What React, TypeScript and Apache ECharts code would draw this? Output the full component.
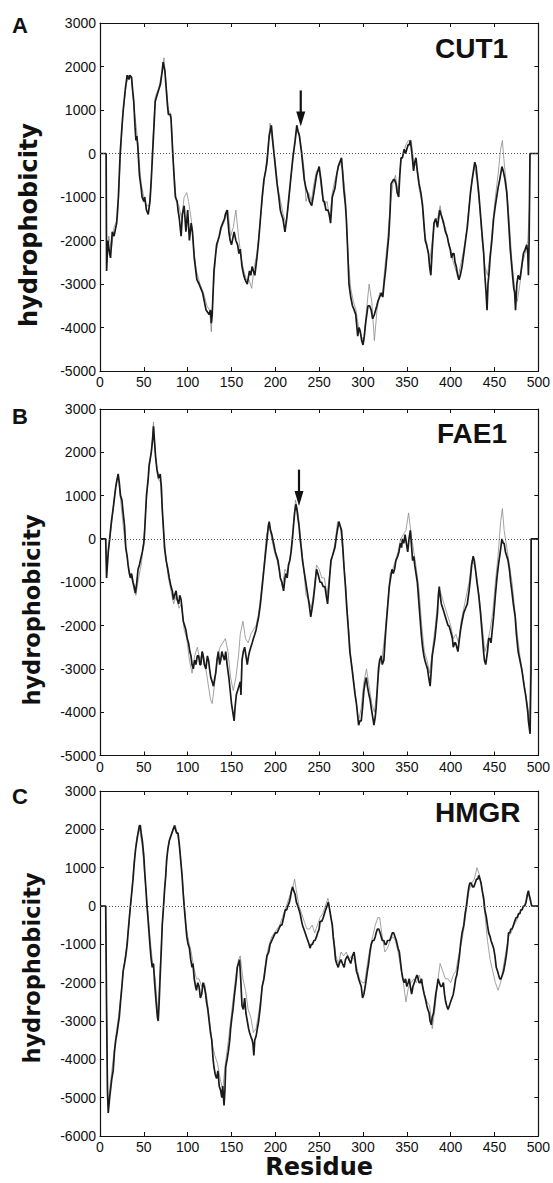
import React, { useEffect, useRef } from "react";
import * as echarts from "echarts";

// ---------- data (residue, hydrophobicity) ----------
const panelLetters = ["A", "B", "C"];
const panelNames = ["CUT1", "FAE1", "HMGR"];
const xTicks = { min: 0, max: 500, interval: 50 };
const yMins = [-5000, -5000, -6000];
const yMax = 3000;

const cut1Dark: [number, number][] = [
  [0,0],[7,0],[7.5,-2700],[9,-2000],[11,-2300],[12,-2400],[14,-1800],[16,-1900],[19,-1600],[21,-1000],[23,0],[25,600],[26.5,1000],[29,1500],[31,1800],[33,1700],[34,1800],[36,1750],[37,1500],[38.5,1200],[40,600],[41,300],[42,400],[43,200],[45,-500],[47,-800],[48,-1000],[50,-1100],[51,-1000],[53,-1300],[55,-1400],[57,-1100],[58.5,-600],[60,0],[61.5,600],[63,1200],[66,1400],[69,1600],[71,1900],[72,2100],[74,1900],[75.5,1500],[77,1100],[78,900],[80,900],[81,800],[83,0],[85,-700],[86,-1000],[88,-1100],[89,-1300],[90.5,-1500],[92.5,-1900],[94,-1400],[96,-1200],[98,-1800],[100,-1300],[102,-2000],[104,-1600],[105.5,-1800],[107.5,-2400],[110.5,-2900],[113,-3000],[115,-3100],[117,-3200],[119,-3400],[121,-3600],[124.5,-3700],[126,-3600],[127,-3900],[128,-3700],[130,-2700],[133,-2100],[136,-1900],[138,-1700],[140,-1600],[142,-1500],[143,-1400],[145,-1300],[147,-1800],[148.5,-2000],[150,-2100],[152,-1900],[153,-1800],[155,-2000],[157,-2100],[158.5,-2300],[160,-2200],[162,-2600],[164,-2800],[165.5,-2900],[168,-3000],[170.5,-2700],[172,-2800],[173.5,-2600],[175,-2700],[176.6,-2800],[179,-2400],[181,-2000],[183,-1500],[185,-1000],[187,-600],[189,-400],[190.5,-200],[193,400],[195.5,650],[197,300],[200,-300],[202,-700],[204,-1000],[205.7,-1300],[207,-1400],[208.7,-1500],[211,-1800],[213,-1500],[215,-1100],[217,-700],[220,-100],[222.6,300],[224.5,650],[226,500],[227.5,400],[230,0],[231.5,-300],[233,-600],[235,-800],[236.6,-900],[239,-1100],[241.5,-1200],[244,-900],[247,-500],[250,-300],[252,-600],[254.7,-1100],[256,-1100],[257.7,-1300],[260,-1300],[261.5,-1400],[263,-1600],[265,-1000],[268,-800],[270,-500],[271.7,-300],[273.5,-200],[275.5,-100],[277,-500],[278,-800],[280,-1200],[281,-1500],[282.5,-2200],[284,-3000],[286,-3300],[288,-3500],[290,-3600],[291.7,-3700],[294,-4200],[295.5,-4000],[297,-4100],[298.5,-4300],[300,-4400],[301.5,-4200],[303,-3900],[305.7,-3500],[307.5,-3500],[309.4,-3600],[311,-3800],[313,-3700],[315.8,-3500],[317,-3400],[319,-3300],[321,-3200],[322.6,-3300],[324,-3000],[325.7,-2700],[328,-2200],[329.4,-1900],[331,-1300],[332,-700],[334.7,-600],[336,-600],[337.7,-700],[339,-900],[340.7,-1000],[342,-500],[343.4,-100],[345,-100],[347,100],[348.5,0],[350,100],[351.5,200],[352.8,200],[354,300],[355.8,0],[357.7,-400],[359,-200],[360.4,-100],[362,-400],[364,-700],[366,-900],[368,-1200],[369.5,-1600],[371,-2000],[372.5,-2100],[374.7,-2300],[376,-2600],[377.4,-2800],[379,-2200],[381,-1600],[383,-1500],[385,-1700],[387.5,-1300],[389,-1400],[390.6,-1500],[392,-1600],[394,-1800],[396,-1900],[398,-2100],[399.5,-2200],[401,-2400],[402.5,-2300],[403.8,-2300],[405,-2500],[406.4,-2600],[408,-2800],[409.4,-2900],[411,-2800],[413,-2600],[415,-2300],[417,-2000],[419,-1700],[420.8,-1300],[422.6,-900],[424.5,-600],[426,-400],[427.5,-200],[429,-300],[430,-500],[432,-900],[434,-1400],[436,-1900],[437.7,-2300],[439,-2800],[440.4,-3200],[441.5,-3600],[442.6,-3000],[444,-2700],[445,-2400],[447,-2000],[449,-1500],[451,-1200],[454,-800],[456,-600],[458.5,-300],[460,-400],[462,-600],[464,-900],[465,-1200],[466.5,-1700],[468,-2200],[470.6,-2800],[472,-3100],[473,-3200],[474,-3600],[475.5,-3000],[477,-2800],[479,-2900],[481,-2600],[483,-2300],[485,-2200],[486.8,-2100],[488,-2300],[488.7,-2800],[489.5,-2000],[490,-1000],[490.5,0],[500,0]
];
const cut1Gray: [number, number][] = [
  [0,0],[7,0],[7.5,-2500],[10,-1900],[13,-2200],[16,-1700],[20,-1500],[23,-200],[26,900],[30,1600],[33,1800],[36,1700],[39,1000],[42,500],[44,0],[47,-700],[50,-1000],[53,-1200],[56,-1200],[58,-800],[60,200],[63,1300],[67,1500],[70,1800],[73,2200],[75,1700],[78,1000],[81,900],[84,-300],[87,-1100],[90,-1200],[93,-1500],[96,-1000],[99,-900],[101,-1100],[104,-1500],[107,-2200],[110,-2700],[114,-3000],[118,-3200],[122,-3500],[125,-3600],[127,-4100],[129,-3200],[132,-2300],[135,-2000],[139,-1700],[143,-1500],[146,-1300],[149,-1900],[152,-1700],[155,-1300],[158,-1900],[161,-2400],[164,-2700],[167,-2900],[170,-2900],[173,-3100],[176,-2600],[179,-2300],[182,-1700],[185,-1100],[188,-500],[191,0],[194,700],[197,200],[200,-200],[203,-800],[206,-1100],[209,-1400],[212,-1600],[215,-1200],[218,-500],[221,0],[224,500],[227,500],[230,100],[233,-400],[235,-1100],[238,-900],[241,-1100],[244,-700],[247,-400],[250,-400],[253,-900],[256,-1200],[259,-1100],[262,-1500],[265,-900],[268,-600],[271,-400],[274,-200],[277,-400],[280,-1000],[283,-2400],[286,-3100],[289,-3400],[292,-3600],[295,-4000],[298,-4200],[301,-4300],[304,-3600],[307,-3000],[310,-3400],[313,-4300],[316,-3600],[319,-3200],[322,-3300],[325,-2600],[328,-2000],[331,-1200],[334,-700],[337,-500],[340,-900],[343,-200],[346,0],[349,200],[352,300],[355,300],[358,-200],[361,-300],[364,-800],[367,-1100],[370,-1800],[373,-2100],[376,-2500],[379,-2000],[382,-1500],[385,-1500],[388,-1200],[391,-1600],[394,-1700],[397,-2000],[400,-2200],[403,-2500],[406,-2700],[409,-2800],[412,-2500],[415,-2200],[418,-1800],[421,-1200],[424,-700],[427,-300],[430,-600],[433,-1200],[436,-2000],[439,-2600],[442,-2800],[445,-2300],[448,-1600],[451,-1000],[454,-500],[457,100],[459,300],[461,-200],[464,-800],[467,-1600],[470,-2500],[473,-3100],[476,-3400],[479,-3000],[482,-2500],[485,-2300],[488,-2000],[490,-1200],[490.5,0],[500,0]
];

const fae1Dark: [number, number][] = [
  [0,0],[6.5,0],[7.5,-900],[9.4,-300],[11,0],[13,400],[15,700],[18,1200],[20.7,1500],[22,1300],[23.4,1000],[25,900],[26.4,600],[28,300],[29.4,-200],[31,-400],[32,-600],[33.5,-800],[34.7,-900],[36,-800],[37.7,-1000],[39,-1100],[40.4,-1250],[42,-1000],[43.4,-700],[45,-600],[46,-500],[48.3,-300],[50,-100],[51,200],[53,1000],[55,1400],[56,1700],[58.5,2000],[60,2300],[61,2600],[62,2300],[63.4,1900],[65,1600],[66,1500],[67,1400],[68.7,1500],[70,1200],[71,700],[72.5,200],[73.6,-200],[75.5,-500],[77.4,-700],[79,-900],[81,-1100],[82.5,-1200],[83.8,-1400],[85,-1300],[86.8,-1200],[88,-1400],[89.8,-1500],[91,-1300],[92.5,-1400],[94,-1700],[95,-1900],[96.5,-2000],[98,-2100],[99.5,-2300],[101,-2400],[102.5,-2600],[103.8,-2700],[105,-2900],[106.4,-3000],[108,-2800],[109.4,-2900],[111,-2700],[112.5,-2700],[114,-2900],[115,-2900],[116.5,-2600],[117.7,-2700],[119,-2900],[120.8,-3000],[122.5,-2700],[123.8,-2800],[125,-3000],[126.4,-3200],[128,-3300],[129.4,-3400],[131,-3200],[132,-3100],[133.5,-2800],[135,-2600],[136.5,-2900],[137.7,-2800],[139,-2600],[140.4,-2700],[142,-2800],[143.4,-2600],[145,-2900],[147,-3200],[148.5,-3500],[150,-3800],[151.5,-4000],[153,-4200],[154,-3900],[155.5,-3600],[157,-3500],[158.5,-3400],[160,-3300],[160.8,-3600],[162,-2800],[163.5,-2600],[165,-2500],[166.5,-2700],[168,-2900],[169.5,-2700],[170.6,-2600],[172,-2500],[173.6,-2400],[175,-2300],[176.6,-2200],[178,-2100],[179,-2000],[181,-1800],[183,-1500],[185,-1100],[187,-700],[189,-300],[190.6,0],[192,300],[193,400],[194.5,200],[196,100],[198,-100],[200,-300],[201.5,-400],[203,-500],[204.5,-700],[205.7,-900],[207.5,-1000],[209.4,-1200],[211,-900],[212,-800],[213.5,-900],[215,-600],[216.5,-500],[218,-300],[219.5,0],[220.7,300],[222,600],[223.4,800],[224.5,700],[225.7,500],[227,300],[228.3,0],[229.5,-200],[231,-500],[232.5,-700],[234,-900],[235.5,-1100],[237,-1300],[238.5,-1500],[240.4,-1800],[242,-1600],[243.4,-1400],[245,-1100],[247,-700],[248.5,-800],[249.8,-900],[251,-1000],[252.8,-1000],[254.5,-1100],[256.6,-1100],[258,-1300],[259.6,-1500],[261.5,-1000],[263.4,-500],[265,-400],[266.5,-300],[268,-200],[270,100],[272.5,400],[274,300],[275.5,200],[277,-200],[278.5,-700],[280,-1100],[281.5,-1600],[283,-2000],[285,-2600],[287.5,-3000],[289.8,-3400],[291,-3600],[292.5,-3800],[294,-4100],[295,-4300],[296.5,-4200],[298,-4200],[299.5,-3900],[301,-3500],[302.5,-3300],[303.8,-3200],[305,-3400],[306.8,-3600],[308,-3700],[309.4,-3900],[311,-4100],[312.5,-4300],[314,-4100],[315,-3900],[316.5,-3400],[317.7,-3000],[319,-2800],[320.8,-2700],[322,-2900],[323.8,-2800],[325,-2400],[326.4,-2000],[328,-1600],[330,-1100],[331.5,-900],[333,-700],[334.5,-800],[336,-700],[337.5,-500],[339.6,-400],[341,-300],[342.6,-100],[344,-200],[345,0],[346.5,-100],[348,100],[349.5,-100],[351,-300],[352.5,0],[354,200],[355.5,-200],[356.6,-500],[358,-400],[359,-600],[360.5,-800],[362,-1000],[363.5,-1400],[365,-1800],[366.5,-2200],[368,-2500],[369.5,-2700],[370.6,-2800],[372,-2900],[373.6,-3000],[375,-3200],[376.6,-3400],[378,-3000],[379,-2700],[380.5,-2500],[382,-2300],[383.5,-2000],[385,-1700],[386,-1300],[387,-1100],[388,-1300],[389.4,-1500],[391,-1600],[392.5,-1700],[394,-1800],[395.5,-1900],[397,-2000],[398,-2000],[399.5,-2100],[400.8,-2200],[402,-2300],[403,-2500],[404.5,-2400],[405.7,-2400],[407,-2500],[408.3,-2600],[410,-2300],[411.3,-2100],[413,-1900],[415,-1700],[417,-1600],[419,-1500],[421,-1200],[422.6,-900],[424,-600],[425.7,-400],[427,-500],[428.3,-700],[430,-1000],[432,-1300],[434,-1700],[436,-2200],[437.5,-2600],[438.5,-2800],[440,-2900],[440.8,-2900],[442,-2600],[443.4,-2300],[445,-2300],[446,-2400],[447.5,-2100],[449,-1800],[451,-1300],[452.8,-900],[454.5,-600],[456.6,-300],[458.5,0],[460,-100],[461,-100],[462.5,-300],[464,-400],[465.5,-500],[467,-700],[468.5,-1000],[469.8,-1200],[471.5,-1500],[473.6,-1800],[475,-2200],[477,-2600],[479,-2800],[481,-3000],[482.5,-3200],[483.8,-3400],[485.5,-3600],[486.8,-3800],[488,-4000],[488.7,-4200],[490.6,-4500],[491.7,-3000],[491.8,0],[500,0]
];
const fae1Gray: [number, number][] = [
  [0,0],[6.5,0],[7.5,-700],[10,-200],[13,300],[16,900],[19,1400],[21,1400],[24,800],[27,200],[30,-300],[33,-700],[36,-900],[39,-1200],[41,-1300],[44,-900],[47,-600],[50,0],[53,900],[56,1600],[59,2100],[61,2700],[63,2000],[66,1400],[69,1300],[72,300],[75,-400],[78,-900],[81,-1200],[84,-1500],[87,-1300],[90,-1600],[93,-1500],[96,-2100],[99,-2300],[102,-2800],[105,-3100],[108,-2700],[111,-2500],[114,-2800],[117,-2600],[120,-2900],[123,-3300],[126,-3700],[128,-3800],[131,-3300],[134,-2700],[137,-2500],[140,-2400],[143,-2300],[146,-2600],[149,-3200],[152,-3500],[155,-3200],[158,-2700],[160,-2200],[163,-1900],[166,-2300],[169,-2400],[172,-2200],[175,-2100],[178,-2000],[181,-1700],[184,-1200],[187,-600],[190,100],[193,300],[196,0],[199,-300],[202,-500],[205,-800],[208,-1100],[211,-700],[214,-800],[217,-400],[220,200],[223,900],[226,600],[229,0],[232,-600],[235,-1300],[238,-1400],[241,-1600],[244,-1200],[247,-600],[250,-700],[253,-900],[256,-900],[259,-1300],[262,-800],[265,-400],[268,-100],[271,400],[274,300],[277,-300],[280,-1000],[283,-1900],[286,-2700],[289,-3200],[292,-3700],[295,-4200],[298,-3900],[301,-3300],[304,-3000],[307,-3400],[310,-3800],[313,-4000],[316,-3500],[319,-2900],[322,-2700],[325,-2200],[328,-1500],[331,-800],[334,-700],[337,-500],[340,-300],[343,0],[346,100],[349,200],[352,600],[355,100],[358,-300],[361,-700],[364,-1200],[367,-2000],[370,-2600],[373,-2800],[376,-3100],[379,-2600],[382,-2100],[385,-1500],[388,-1200],[391,-1400],[394,-1600],[397,-1800],[400,-2000],[403,-2300],[406,-2200],[409,-2400],[412,-1900],[415,-1600],[418,-1300],[421,-1000],[424,-500],[427,-600],[430,-900],[433,-1400],[436,-2000],[439,-2600],[442,-2400],[445,-2100],[448,-1700],[451,-1000],[454,-400],[457,400],[459,700],[461,200],[464,-200],[467,-600],[470,-1000],[473,-1600],[476,-2200],[479,-2700],[482,-3100],[485,-3500],[488,-3900],[490,-4300],[491,-2800],[491.8,0],[500,0]
];

const hmgrDark: [number, number][] = [
  [0,0],[6.5,0],[7.5,-2700],[8.5,-4800],[9.4,-5400],[11,-5000],[12,-4800],[13.5,-4500],[15,-4300],[16.5,-3800],[18,-3500],[19.5,-3300],[20.7,-3100],[22,-2900],[23.4,-2500],[25,-2100],[26.4,-1700],[28,-1500],[29.4,-1300],[31,-1000],[32,-700],[33.5,-300],[34.7,0],[36,300],[37.7,700],[39,1100],[40.7,1500],[42,1700],[43.4,1900],[45,2100],[46,2100],[47,1900],[48.3,1700],[50,1300],[51,900],[52.5,400],[53.6,0],[55,-400],[56.6,-900],[58,-1300],[59.6,-1600],[61,-1500],[62.3,-2000],[64,-2500],[65.5,-2900],[66.4,-3000],[67.5,-2500],[68.7,-1800],[70,-1100],[71,-500],[72.5,0],[73.6,400],[75,800],[76,1200],[77.5,1500],[79,1700],[80.5,1800],[82,1900],[83.5,2000],[85,2100],[86,2000],[87.5,1900],[89,1900],[90.5,1600],[92,1200],[93.6,800],[95,300],[96,0],[97.5,-400],[99,-800],[100.5,-1000],[102,-1100],[103.5,-1400],[105,-1600],[106,-1500],[107.5,-1900],[109,-2100],[110,-2200],[111.5,-2000],[113,-2100],[114.5,-2400],[116,-2300],[117.5,-2000],[119,-2100],[120.5,-2300],[121.5,-2500],[123,-2700],[124.5,-3000],[126,-3300],[127.5,-3500],[129,-4000],[130,-4200],[131.5,-4400],[133,-4500],[134.5,-4300],[136,-4700],[137.5,-4800],[139,-5000],[140,-4700],[141.5,-5200],[142.5,-4800],[143.4,-4200],[145,-4000],[146.4,-3800],[148,-3500],[149,-3200],[150.5,-2900],[151.7,-2700],[153,-2400],[154,-2200],[155.5,-1900],[156.6,-1600],[158,-1500],[159.2,-1400],[160.5,-1900],[162,-2600],[163.5,-2700],[165,-2400],[166.5,-2800],[168,-3000],[169.5,-3200],[170.6,-3300],[172,-3400],[173.6,-3500],[174.5,-3600],[175.5,-3900],[176.5,-3500],[178,-3400],[179.5,-3200],[181,-3000],[183,-2600],[185,-2100],[187,-1900],[188.7,-1600],[190.5,-1300],[192.5,-1200],[194,-1000],[196,-900],[198,-800],[200,-700],[202,-700],[204,-600],[206,-500],[207.5,-500],[209.5,-300],[211.3,-100],[213,-100],[214.3,0],[216,100],[217,200],[218.5,400],[219.6,500],[221,400],[222.6,300],[224,100],[225.7,0],[227,-100],[228.3,-200],[230,-400],[231,-500],[232.5,-600],[234,-700],[235.5,-800],[237,-900],[238.5,-1000],[239.6,-1100],[241,-1000],[242.3,-1000],[244,-900],[245.3,-900],[247,-800],[248.3,-700],[250,-600],[251,-400],[253,-400],[254.7,-300],[256,-200],[257.4,-100],[259,0],[260.4,100],[262,-100],[263.4,-300],[265,-500],[266,-800],[267.5,-1100],[268.7,-1400],[270,-1500],[271.7,-1600],[273,-1500],[274.7,-1400],[276.5,-1500],[278.5,-1600],[280,-1400],[282.3,-1300],[284,-1400],[286,-1500],[288,-1300],[289.8,-1200],[291,-1400],[292.5,-1700],[294,-1800],[295,-1900],[296.5,-2000],[298,-2100],[299.5,-2400],[301,-2300],[302.5,-2100],[303.8,-1900],[305,-1700],[306.4,-1500],[308,-1200],[309.4,-1000],[311,-900],[312.5,-900],[314,-800],[315,-700],[316.5,-600],[318,-600],[319.5,-700],[320.8,-800],[322,-900],[323.8,-900],[325,-1000],[326.4,-1000],[328,-900],[329,-900],[330.5,-900],[332,-800],[333.5,-700],[335,-700],[336.5,-800],[338,-900],[340,-1100],[341.5,-1200],[343,-1500],[344,-1700],[345.5,-1900],[347,-2000],[348.5,-1900],[350,-2100],[351.5,-2000],[352.8,-1900],[354,-2100],[355.5,-2300],[357,-2100],[358.5,-2000],[360,-1900],[361.5,-1800],[363,-1900],[364,-2000],[365.5,-2000],[366.8,-1900],[368,-2100],[369.8,-2300],[371,-2400],[372.8,-2600],[374,-2700],[375.5,-2800],[376.5,-3000],[378,-3100],[379,-2900],[380.4,-2800],[381.5,-2600],[383,-2300],[384.5,-2100],[385.7,-1900],[387,-2000],[388.7,-2100],[390,-2100],[391.7,-2000],[393,-2300],[394.3,-2500],[395.5,-2600],[397,-2700],[398.5,-2600],[400,-2500],[401.5,-2400],[403,-2300],[404.5,-2100],[405.7,-1900],[407,-1800],[408.3,-1600],[410,-1300],[411.3,-1000],[413,-700],[415,-500],[416.5,-200],[418,0],[419.5,300],[420.8,500],[422,600],[423.4,600],[425,500],[426.4,500],[428,600],[429.4,700],[431,700],[432,800],[433.5,700],[434.7,600],[436,400],[437.7,200],[439,-100],[440.8,-300],[442,-500],[443.4,-700],[445,-800],[446,-900],[447.5,-1000],[449,-1100],[450.5,-1300],[452,-1600],[453.5,-1700],[454.7,-1800],[456,-1900],[457.4,-1900],[459,-1800],[460.4,-1700],[462,-1500],[463.4,-1300],[465,-1000],[466,-700],[467.5,-700],[468.7,-600],[470,-600],[471.7,-500],[473,-400],[474.7,-300],[476,-300],[477.4,-200],[479,-200],[480,-100],[481.5,-100],[483,0],[484.5,0],[486,100],[487.5,300],[488.7,400],[489.5,300],[490.6,200],[491.5,100],[492.5,0],[500,0]
];
const hmgrGray: [number, number][] = [
  [0,0],[6.5,0],[7.5,-2500],[9,-5200],[12,-4600],[15,-4000],[18,-3400],[21,-2900],[24,-2300],[27,-1600],[30,-1100],[33,-500],[36,300],[39,1200],[42,1800],[45,2000],[48,1600],[51,800],[54,0],[57,-800],[60,-1500],[63,-1900],[66,-2800],[68,-1900],[71,-500],[74,500],[77,1400],[80,1800],[83,2000],[86,2100],[89,1800],[92,1300],[95,400],[98,-500],[101,-900],[104,-1200],[107,-1600],[110,-1900],[113,-1900],[116,-2100],[119,-2000],[122,-2400],[125,-3000],[128,-3600],[131,-3900],[134,-4100],[137,-4500],[140,-4800],[143,-4100],[146,-3600],[149,-3000],[152,-2400],[155,-1800],[158,-1400],[160,-1300],[163,-1900],[166,-2200],[169,-2700],[172,-2900],[175,-3300],[178,-3200],[181,-2800],[184,-2300],[187,-1800],[190,-1300],[193,-1000],[196,-800],[199,-700],[202,-600],[205,-500],[208,-300],[211,-100],[214,100],[217,300],[220,500],[222,700],[224,400],[227,0],[230,-200],[233,-400],[236,-600],[239,-600],[242,-500],[245,-700],[248,-500],[251,-300],[254,-200],[257,0],[260,200],[263,-200],[266,-700],[269,-1300],[272,-1500],[275,-1200],[278,-1300],[281,-1200],[284,-1400],[287,-1300],[290,-1400],[293,-1600],[296,-1900],[299,-2000],[302,-2000],[305,-1500],[308,-1100],[311,-800],[314,-500],[317,-300],[319,-300],[322,-800],[325,-1200],[328,-1100],[331,-900],[334,-800],[337,-900],[340,-1200],[343,-1600],[346,-2000],[349,-2500],[352,-2100],[355,-2000],[358,-1900],[361,-2000],[364,-1800],[367,-2000],[370,-2300],[373,-2500],[376,-2600],[379,-3200],[382,-2700],[385,-2000],[388,-1500],[391,-1700],[394,-1900],[397,-1900],[400,-2000],[403,-1800],[406,-1700],[409,-1300],[412,-1000],[415,-600],[418,-100],[421,400],[424,600],[427,700],[430,1000],[433,800],[436,400],[439,-200],[442,-900],[445,-1400],[448,-1700],[451,-2000],[454,-2200],[457,-2000],[460,-1600],[463,-1200],[466,-800],[469,-700],[472,-500],[475,-400],[478,-200],[481,-100],[484,0],[487,200],[489,300],[491,100],[492.5,0],[500,0]
];

// arrows: [residue, tail value, tip value], one per panel (none for HMGR)
const arrowsA: [number, number, number][] = [[229, 1450, 620]];
const arrowsB: [number, number, number][] = [[227, 1600, 760]];

const darkSeries = [cut1Dark, fae1Dark, hmgrDark];
const graySeries = [cut1Gray, fae1Gray, hmgrGray];
const arrowSeries = [arrowsA, arrowsB, []];

// ---------- layout ----------
const W = 553;
const H = 1183;
const grids = [
  { left: 100, top: 23, width: 441, height: 348 },
  { left: 100, top: 409, width: 441.5, height: 346.5 },
  { left: 100, top: 791, width: 441.5, height: 345 },
];
const yLabelCenters = [
  { x: 29, y: 225, size: 24 },
  { x: 32, y: 610, size: 22.5 },
  { x: 32, y: 968, size: 22.5 },
];
const letterPos = [
  { x: 12, y: 14 },
  { x: 12, y: 405 },
  { x: 12, y: 785 },
];
const namePos = [
  { x: 435, y: 34 },
  { x: 437, y: 419 },
  { x: 435, y: 798 },
];

export default function App() {
  const ref = useRef<HTMLDivElement>(null);

  useEffect(() => {
    if (!ref.current) return;
    const chart = echarts.init(ref.current, undefined, { renderer: "svg" });

    const tickFont = { color: "#111", fontFamily: "Liberation Sans, Arial, sans-serif", fontSize: 14, formatter: (v: number) => String(v) };
    const axisLine = { show: true, onZero: false, lineStyle: { color: "#111", width: 1.2 } };
    const axisTick = { show: true, inside: true, length: 4, lineStyle: { color: "#111", width: 1 } };

    const xAxes: any[] = [];
    const yAxes: any[] = [];
    const series: any[] = [];

    grids.forEach((_, i) => {
      const isLast = i === grids.length - 1;
      xAxes.push({
        type: "value", gridIndex: i, position: "bottom",
        min: xTicks.min, max: xTicks.max, interval: xTicks.interval,
        axisLine, axisTick, splitLine: { show: false },
        axisLabel: { ...tickFont, margin: 4, showMinLabel: true, showMaxLabel: true },
        name: isLast ? "Residue" : "",
        nameLocation: "middle", nameGap: 15,
        nameTextStyle: { fontFamily: "DejaVu Sans", fontWeight: "bold", fontSize: 24, color: "#111", verticalAlign: "top" },
      });
      xAxes.push({
        type: "value", gridIndex: i, position: "top",
        min: xTicks.min, max: xTicks.max, interval: xTicks.interval,
        axisLine, axisTick, splitLine: { show: false }, axisLabel: { show: false },
      });
      yAxes.push({
        type: "value", gridIndex: i, position: "left",
        min: yMins[i], max: yMax, interval: 1000,
        axisLine, axisTick, splitLine: { show: false },
        axisLabel: { ...tickFont, margin: 4, showMinLabel: true, showMaxLabel: true },
      });
      yAxes.push({
        type: "value", gridIndex: i, position: "right",
        min: yMins[i], max: yMax, interval: 1000,
        axisLine, axisTick, splitLine: { show: false }, axisLabel: { show: false },
      });

      series.push({
        type: "line", xAxisIndex: i * 2, yAxisIndex: i * 2,
        data: graySeries[i], showSymbol: false, symbol: "none",
        lineStyle: { color: "#8a8a8a", width: 0.8 }, z: 2,
      });
      series.push({
        type: "line", xAxisIndex: i * 2, yAxisIndex: i * 2,
        data: darkSeries[i], showSymbol: false, symbol: "none",
        lineStyle: { color: "#1a1a1a", width: 1.7 }, z: 3,
        markLine: {
          silent: true, symbol: "none", label: { show: false },
          lineStyle: { type: [1, 2], color: "#555", width: 1 },
          data: [{ yAxis: 0 }],
        },
      });
      if (arrowSeries[i].length) {
        series.push({
          type: "custom", xAxisIndex: i * 2, yAxisIndex: i * 2, z: 5,
          data: arrowSeries[i],
          renderItem: (_p: any, api: any) => {
            const tail = api.coord([api.value(0), api.value(1)]);
            const tip = api.coord([api.value(0), api.value(2)]);
            return {
              type: "group",
              children: [
                { type: "line", shape: { x1: tail[0], y1: tail[1], x2: tip[0], y2: tip[1] - 10 }, style: { stroke: "#111", lineWidth: 2.2 } },
                { type: "polygon", shape: { points: [[tip[0] - 4.5, tip[1] - 15], [tip[0] + 4.5, tip[1] - 15], [tip[0], tip[1]]] }, style: { fill: "#111" } },
              ],
            };
          },
        });
      }
    });

    const graphics: any[] = [];
    grids.forEach((_, i) => {
      graphics.push({
        type: "text", left: letterPos[i].x, top: letterPos[i].y,
        style: { text: panelLetters[i], fontFamily: "Liberation Sans, Arial", fontWeight: "bold", fontSize: 22, fill: "#111" },
      });
      graphics.push({
        type: "text", left: namePos[i].x, top: namePos[i].y,
        style: { text: panelNames[i], fontFamily: "Liberation Sans, Arial", fontWeight: "bold", fontSize: 28, fill: "#111" },
      });
      graphics.push({
        type: "text", x: yLabelCenters[i].x, y: yLabelCenters[i].y, rotation: Math.PI / 2,
        style: { text: "hydrophobicity", fontFamily: "DejaVu Sans", fontWeight: "bold", fontSize: yLabelCenters[i].size, fill: "#111", align: "center", verticalAlign: "middle" },
      });
    });

    chart.setOption({
      animation: false,
      backgroundColor: "#fff",
      grid: grids.map((g) => ({ ...g, containLabel: false })),
      xAxis: xAxes,
      yAxis: yAxes,
      series,
      graphic: graphics,
    });

    return () => chart.dispose();
  }, []);

  return (
    <div
      ref={ref}
      style={{ position: "absolute", left: 0, top: 0, width: W, height: H, background: "#fff" }}
    />
  );
}
